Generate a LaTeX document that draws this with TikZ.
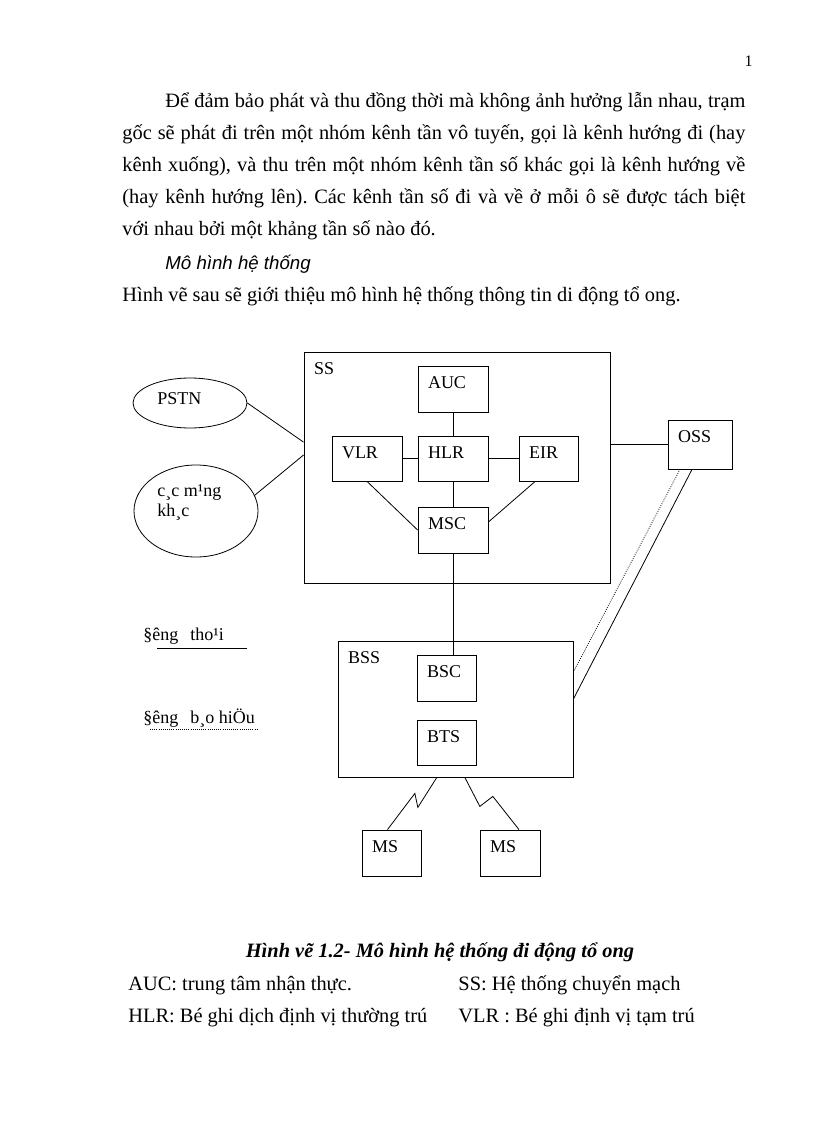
\documentclass[tikz,border=0pt]{standalone}
\usepackage{fontspec}
\setmainfont{Liberation Serif}
\newfontfamily\sansit{Liberation Sans}
\usetikzlibrary{shapes.geometric}
\frenchspacing
\newcommand\bodysize{\fontsize{15.3pt}{18pt}\selectfont}
\newcommand\labelsize{\fontsize{13.5pt}{15pt}\selectfont}
\newcommand\fullline[2]{\makebox[#1][s]{#2}}
\tikzset{
  boxtag/.style={anchor=north west, inner sep=0pt, xshift=7.5pt, yshift=-8pt, font=\labelsize},
  ovaltag/.style={inner sep=0pt, font=\labelsize},
  blk/.style={draw, inner sep=0pt, minimum width=52.5pt, minimum height=34.5pt, label={[boxtag]north west:#1}},
  netoval/.style={draw, ellipse, inner sep=0pt},
  para/.style={anchor=base west, inner sep=0pt, font=\bodysize},
}
\begin{document}
\begin{tikzpicture}[x=0.75pt, y=-0.75pt, line width=0.6pt]
\useasboundingbox (0,0) rectangle (816,1123);

\node[anchor=base east, inner sep=0pt, font=\fontsize{12pt}{14pt}\selectfont] (pageno) at (753,67) {1};
\node[para] (l1) at (165,108) {\fullline{435pt}{Để đảm bảo phát và thu đồng thời mà không ảnh hưởng lẫn nhau, trạm}};
\node[para] (l2) at (122,140) {\fullline{467.25pt}{gốc sẽ phát đi trên một nhóm kênh tần vô tuyến, gọi là kênh hướng đi (hay}};
\node[para] (l3) at (122,172) {\fullline{467.25pt}{kênh xuống), và thu trên một nhóm kênh tần số khác gọi là kênh hướng về}};
\node[para] (l4) at (122,204) {\fullline{467.25pt}{(hay kênh hướng lên). Các kênh tần số đi và về ở mỗi ô sẽ được tách biệt}};
\node[para] (l5) at (122,236) {với nhau bởi một khảng tần số nào đó.};
\node[para, font=\fontsize{14pt}{17pt}\selectfont\sansit\itshape] (l6) at (165,269) {Mô hình hệ thống};
\node[para] (l7) at (122,301) {Hình vẽ sau sẽ giới thiệu mô hình hệ thống thông tin di động tổ ong.};

% SS
\node[blk=SS, minimum width=229.5pt, minimum height=173.25pt] (ss) at (457,467.5) {};
\node[blk=AUC] (auc) at (453,389) {};
\node[blk=VLR, minimum height=33.75pt] (vlr) at (367,458.5) {};
\node[blk=HLR, minimum height=33.75pt] (hlr) at (453,458.5) {};
\node[blk=EIR, minimum width=44.25pt, minimum height=33.75pt] (eir) at (548.5,458.5) {};
\node[blk=MSC] (msc) at (453,530) {};
\node[blk=OSS, minimum width=48pt, minimum height=36.75pt] (oss) at (700,444.5) {};
% BSS
\node[blk=BSS, minimum width=176.25pt, minimum height=102pt] (bss) at (455.5,709) {};
\node[blk=BSC, minimum width=44.25pt] (bsc) at (446.5,678) {};
\node[blk=BTS, minimum width=44.25pt, minimum height=33.75pt] (bts) at (446.5,742.5) {};
\node[blk=MS, minimum width=44.25pt] (ms1) at (391.5,853) {};
\node[blk=MS, minimum width=45pt] (ms2) at (510,853) {};
\node[netoval, minimum width=85.5pt, minimum height=37.5pt] (pstn) at (190,403) {};
\node[ovaltag, anchor=north west] (pstntag) at (157,392) {PSTN};
\node[netoval, minimum width=93pt, minimum height=69pt] (net) at (196,511) {};
\node[ovaltag, anchor=west, align=left] (nettag) at (157,502) {c¸c m¹ng\\kh¸c};

\draw (pstn.east) -- ([yshift=19pt]ss.west);
\draw (net.15) -- ([yshift=9.4pt]ss.west);
\draw (auc) -- (hlr);
\draw (vlr) -- (hlr);
\draw (hlr) -- (eir);
\draw (hlr) -- (msc);
\draw (vlr.south) -- (msc.west);
\draw ([xshift=-10pt]eir.south) -- ([yshift=6pt]msc.east);
\draw (oss.west) -- (oss.west -| ss.east);
\draw (msc) -- (msc |- bsc.north);
\draw ([xshift=-14pt]bss.south) -- ++(-19,30) -- ++(-3,-14) -- ([xshift=-3pt]ms1.north);
\draw ([xshift=7pt]bss.south) -- ++(15,29) -- ++(13,-10) -- ([xshift=6.75pt]ms2.north);
\draw ([xshift=-6pt]oss.south) -- ([yshift=7.5pt]bss.east);
\draw[densely dotted] ([xshift=-15pt]oss.south) -- ([yshift=27.75pt]bss.east);

% chu thich
\node[para, font=\labelsize] (voice) at (143,640) {§êng\hspace{9pt}tho¹i};
\draw (157,648) -- (247,648);
\node[para, font=\labelsize] (signal) at (143,723) {§êng\hspace{9pt}b¸o hiÖu};
\draw[densely dotted] (150,729) -- (258,729);

\node[anchor=base, inner sep=0pt, font=\bodysize\bfseries\itshape] (caption) at (440,957) {Hình vẽ 1.2- Mô hình hệ thống đi động tổ ong};
\node[para] (auckey) at (128,990) {AUC: trung tâm nhận thực.};
\node[para] (sskey) at (458,990) {SS: Hệ thống chuyển mạch};
\node[para] (hlrkey) at (128,1022) {HLR: Bé ghi dịch định vị thường trú};
\node[para] (vlrkey) at (458,1022) {VLR : Bé ghi định vị tạm trú};
\end{tikzpicture}
\end{document}
